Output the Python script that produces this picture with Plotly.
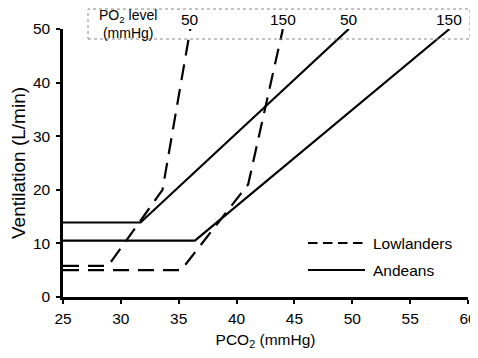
import plotly.graph_objects as go

# Data
pco2_low50 = [25, 28.9, 33.6, 36.0]
vent_low50 = [5.8, 5.8, 20, 50]
pco2_low150 = [25, 35.2, 41.0, 44.0]
vent_low150 = [5.0, 5.0, 21, 50]
pco2_and50 = [25, 31.7, 49.7]
vent_and50 = [13.9, 13.9, 50]
pco2_and150 = [25, 36.4, 58.4]
vent_and150 = [10.5, 10.5, 50]

x_ticks = [25, 30, 35, 40, 45, 50, 55, 60]
y_ticks = [0, 10, 20, 30, 40, 50]
end_labels = ["50", "150", "50", "150"]
legend_names = ["Lowlanders", "Andeans"]

FONT = "Liberation Sans, Arial, Helvetica, sans-serif"
DASH = "16px,9px"
LEG_DASH = "9.5px,5.5px"
FS = 15.5

# page is offset by the 8px body margin; plot area at page x 63..468, y 29..297
PX0, PY1, PW, PH = 63, 297, 405, 268


def px(x):
    return (x - PX0) / PW


def py(y):
    return (PY1 - y) / PH


fig = go.Figure()
series = [
    (pco2_low50, vent_low50, DASH, legend_names[0]),
    (pco2_low150, vent_low150, DASH, legend_names[0]),
    (pco2_and50, vent_and50, "solid", legend_names[1]),
    (pco2_and150, vent_and150, "solid", legend_names[1]),
]
for xs, ys, dash, name in series:
    fig.add_trace(go.Scatter(
        x=xs, y=ys, mode="lines", name=name, legendgroup=name, showlegend=False,
        line=dict(color="black", width=2.2, dash=dash),
    ))

# End labels above each curve
for (xs, ys, _, _), lab in zip(series, end_labels):
    fig.add_annotation(x=xs[-1], y=py(19.5), xref="x", yref="paper", text=lab,
                       showarrow=False, font=dict(size=FS, color="black", family=FONT),
                       xanchor="center", yanchor="middle")

# PO2 header text
fig.add_annotation(x=px(128), y=py(24.5), xref="paper", yref="paper",
                   text="PO<sub>2</sub> level<br>(mmHg)", showarrow=False, align="center",
                   font=dict(size=14, color="black", family=FONT),
                   xanchor="center", yanchor="middle")

# dotted header box
fig.add_shape(type="rect", xref="paper", yref="paper",
              x0=px(88), x1=px(470), y0=py(39), y1=py(9),
              line=dict(color="#888888", width=1, dash="dot"))

# legend (drawn as lines + labels)
for name, dash, yy in [(legend_names[0], LEG_DASH, 243), (legend_names[1], "solid", 270)]:
    fig.add_shape(type="line", xref="paper", yref="paper",
                  x0=px(308), x1=px(365), y0=py(yy), y1=py(yy),
                  line=dict(color="black", width=2.2, dash=dash))
    fig.add_annotation(x=px(371), y=py(yy), xref="paper", yref="paper", text=name,
                       showarrow=False, font=dict(size=FS, color="black", family=FONT),
                       xanchor="left", yanchor="middle")

fig.update_layout(
    width=470, height=350,
    margin=dict(l=55, r=10, t=21, b=61, autoexpand=False),
    paper_bgcolor="white", plot_bgcolor="white",
    font=dict(family=FONT, size=FS, color="black"),
    showlegend=False,
    xaxis=dict(range=[25, 60], tickvals=x_ticks, showgrid=False, zeroline=False,
               automargin=False,
               showline=True, linecolor="black", linewidth=2.5,
               ticks="outside", ticklen=4, tickwidth=2, tickcolor="black",
               ticklabelstandoff=2,
               title=dict(text="PCO<sub>2</sub> (mmHg)", standoff=8,
                          font=dict(size=FS, family=FONT))),
    yaxis=dict(range=[0, 50], tickvals=y_ticks, showgrid=False, zeroline=False,
               automargin=False,
               showline=True, linecolor="black", linewidth=2.5,
               ticks="outside", ticklen=4, tickwidth=2, tickcolor="black",
               ticklabelstandoff=3,
               title=dict(text="Ventilation (L/min)", standoff=13,
                          font=dict(size=19, family=FONT))),
)

fig.write_html("out.html")
